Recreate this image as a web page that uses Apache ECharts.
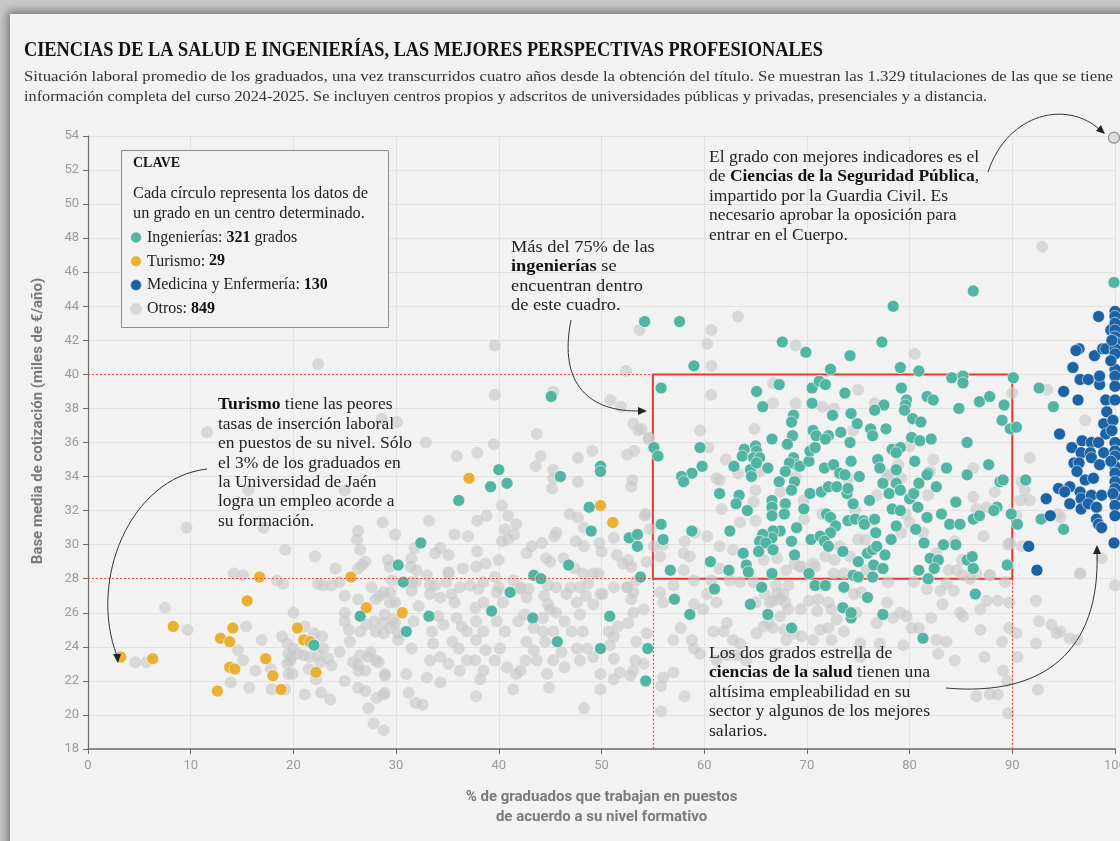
<!DOCTYPE html>
<html><head><meta charset="utf-8">
<script src="https://cdn.jsdelivr.net/npm/echarts@6/dist/echarts.min.js"></script>
<style>
html,body{margin:0;padding:0;width:1120px;height:841px;overflow:hidden;background:#c9c9c9;}
#card{position:absolute;left:10px;top:14px;width:1200px;height:900px;background:#f2f2f2;box-shadow:0 0 9px 3px rgba(0,0,0,0.42);}
#chart{position:absolute;left:0;top:0;width:1120px;height:841px;}
</style></head><body><div id="card"></div><div id="chart"></div>
<script>
// ---------- DATA ----------
const categories = ['Ingenierías', 'Turismo', 'Medicina y Enfermería', 'Otros'];
const counts = [321, 29, 130, 849];
const xTicks = [0, 10, 20, 30, 40, 50, 60, 70, 80, 90, 100];
const yTicks = [18, 20, 22, 24, 26, 28, 30, 32, 34, 36, 38, 40, 42, 44, 46, 48, 50, 52, 54];
const boxX = [55, 90];
const boxY = [28, 40];
const destacado = [[99.9, 53.9]];

const turismo = [[3.2,23.4],[6.3,23.3],[8.3,25.2],[12.6,21.4],[12.9,24.5],[13.8,24.3],[14.1,25.1],[13.8,22.8],[14.3,22.7],[15.5,26.7],[16.7,28.1],[17.3,23.3],[18.0,22.3],[18.8,21.5],[20.4,25.1],[21.0,24.4],[21.6,24.3],[22.2,22.5],[25.6,28.1],[27.1,26.3],[30.6,26.0],[37.1,33.9],[49.9,32.3],[51.1,31.3]];

const medicina = [[98.4,43.4],[99.6,42.6],[96.5,41.5],[96.2,41.4],[98.0,41.1],[98.8,41.5],[99.1,41.5],[95.9,40.4],[96.6,39.7],[97.4,39.7],[98.5,39.4],[95.0,39.0],[96.4,38.5],[99.1,38.5],[99.2,37.8],[98.9,37.1],[99.1,36.5],[94.6,36.5],[96.8,36.1],[95.8,35.7],[97.7,36.0],[98.4,36.0],[96.7,35.4],[97.6,35.4],[97.7,35.1],[98.9,35.4],[96.0,34.8],[96.5,34.8],[96.3,34.3],[98.5,34.7],[97.1,33.8],[97.9,33.9],[95.6,33.4],[94.5,33.3],[95.1,33.1],[93.3,32.7],[96.6,33.1],[96.7,32.7],[97.7,32.9],[98.7,32.9],[95.6,32.4],[96.7,32.1],[97.4,32.4],[98.2,32.2],[93.7,31.7],[98.2,31.5],[98.4,31.2],[98.7,31.0],[91.6,29.9],[92.4,28.5],[99.9,30.1],
[100,43.7],[100,43.4],[100,43.0],[100,42.6],[100,42.2],[100,41.9],[100,41.5],[100,41.2],[100,40.3],[100,39.9],[100,39.3],[100,38.5],[100,36.0],[100,35.5],[100,35.2],[100,34.6],[100,34.2],[100,33.7],[100,33.3],[100,32.8],[100,32.3],[100,31.7],
[99.7,42.0],[99.6,40.8],[99.8,37.3],[99.7,36.7],[99.6,34.9],[99.8,33.0],[98.5,39.9]];

const ingenierias = [[67.6,41.9],[69.9,41.3],[59.0,40.5],[72.3,40.3],[55.8,39.2],[65.1,39.0],[67.3,39.4],[70.5,39.2],[71.2,39.6],[71.8,39.4],
[65.7,38.1],[70.5,38.3],[72.5,37.6],[68.7,37.6],[68.5,37.2],[68.6,36.4],[70.6,36.7],[70.9,36.4],[72.1,36.4],[71.8,36.2],
[68.1,35.9],[66.6,36.2],[59.6,35.7],[63.9,35.6],[65.0,35.8],[65.1,35.5],[63.7,35.2],[64.8,35.1],[65.4,35.1],[55.1,35.7],
[55.5,35.2],[59.8,34.6],[58.8,34.2],[57.8,34.0],[58.0,33.7],[62.9,34.6],[64.5,34.4],[64.6,34.0],[66.2,34.5],[65.1,34.8],
[68.7,35.1],[69.0,34.7],[68.3,34.8],[69.3,34.6],[70.2,34.9],[70.3,35.5],[70.8,35.7],[71.7,34.5],[72.6,34.7],[73.2,34.2],
[67.9,34.3],[67.3,33.7],[68.8,33.7],[68.5,33.2],[66.6,32.6],[66.6,32.2],[66.6,31.7],[67.9,32.4],[67.8,31.8],[69.7,32.1],
[70.3,33.0],[71.4,33.1],[72.1,33.4],[72.9,33.4],[61.5,33.0],[63.4,32.9],[63.1,32.4],[64.2,32.0],[55.8,31.2],[56.0,30.3],
[58.8,30.8],[62.5,30.8],[71.9,31.8],[72.3,31.6],[72.8,31.1],[72.3,30.7],[69.0,31.0],[68.5,30.2],[67.4,30.8],[66.7,30.8],
[66.6,30.4],[65.7,30.6],[65.4,30.2],[66.0,30.1],[66.7,29.7],[65.3,29.6],[70.4,30.3],[71.3,30.5],[71.7,30.2],[72.1,29.9],
[63.8,29.5],[64.1,28.8],[64.3,28.4],[62.4,28.5],[60.6,29.0],[56.7,28.5],[66.6,28.3],[68.8,29.4],[70.2,28.3],[70.8,27.6],
[71.8,27.6],[65.6,27.5],[61.0,27.4],
[77.3,41.9],[74.2,41.1],[79.1,40.4],[80.9,40.2],[73.7,38.9],[79.2,39.2],[81.7,38.7],[82.3,38.5],[77.5,38.2],[76.6,37.9],
[79.7,38.5],[79.6,38.2],[79.5,37.9],[80.3,37.4],[81.1,37.2],[84.1,39.8],[85.2,39.9],[85.2,39.5],[86.8,38.4],[87.8,38.7],
[89.2,38.2],[84.8,38.0],[89.0,37.3],[89.8,36.8],[90.4,36.9],[74.3,37.7],[74.9,37.1],[76.2,36.8],[76.4,36.4],[77.7,36.8],
[73.3,36.6],[74.2,36.0],[80.2,36.3],[81.0,36.1],[82.1,36.2],[78.3,35.6],[79.1,35.7],[78.7,35.4],[76.9,35.0],[77.1,34.5],
[74.3,34.9],[73.7,34.1],[75.1,34.0],[78.7,34.4],[80.5,34.9],[83.6,34.5],[81.8,34.2],[81.7,34.1],[82.6,33.4],[85.6,36.0],
[87.7,34.7],[85.6,34.1],[88.8,33.7],[89.1,33.8],[73.9,33.0],[74.0,33.3],[77.4,33.6],[78.0,33.0],[78.7,33.6],[79.1,33.2],
[80.0,32.7],[80.4,33.0],[80.9,33.6],[76.1,32.6],[74.5,32.4],[78.3,32.1],[79.1,32.0],[80.8,32.2],[81.7,31.6],[83.1,31.8],
[84.5,32.5],[83.9,31.2],[84.9,31.2],[86.2,31.5],[86.8,31.7],[88.5,32.2],[88.2,32.0],[89.9,31.8],[90.5,31.2],[74.0,31.4],
[74.7,31.5],[75.5,31.4],[75.6,31.2],[76.6,31.5],[76.7,30.7],[78.2,30.3],[78.7,31.1],[80.6,30.9],[81.4,30.1],[83.3,30.0],
[84.5,30.0],[73.5,29.6],[75.9,29.5],[76.4,29.7],[76.8,29.9],[77.6,29.4],[75.0,29.0],[76.5,28.8],[77.4,28.6],[82.0,29.2],
[82.8,29.1],[82.4,28.6],[80.9,28.5],[85.6,29.1],[86.1,29.3],[86.2,28.6],[89.5,28.8],[74.5,28.2],[75.0,28.1],[76.4,28.1],
[81.8,28.0],[73.6,27.5],
[54.2,43.1],[57.6,43.1],[78.4,44.0],[86.2,44.9],[99.9,45.4],
[45.1,38.7],[49.9,34.6],[40.0,34.4],[49.9,34.3],[40.8,33.6],[39.2,33.4],[46.0,34.0],[36.1,32.6],[48.8,32.2],[49.0,30.8],[52.7,30.4],[53.5,30.6],[53.5,29.9],[32.4,30.1],[30.2,28.8],[30.7,27.8],[43.4,28.2],[44.1,28.0],[46.8,28.8],[53.8,28.1],[41.1,27.2],
[33.2,25.8],[31.0,24.9],[39.3,26.1],[43.3,25.7],[45.7,24.3],[50.8,25.8],[49.9,23.9],[54.5,23.9],[54.3,22.0],[57.1,26.8],[58.6,25.9],[64.5,26.5],[66.2,25.9],
[75.9,26.9],[73.5,26.3],[74.3,25.7],[74.3,26.0],[77.4,25.9],[68.5,25.1],[81.3,24.5],[86.4,27.1],
[90.1,39.8],[92.6,39.2],[94.0,38.1],[91.3,33.8],[92.8,31.5],[95.0,30.9],
[26.5,25.8],[22.0,24.1]];

const otros = [[15.6,33.2],[25.0,33.2],[9.6,31.0],[17.1,31.0],[26.3,30.8],[26.2,30.3],[26.5,29.7],[19.2,29.7],[22.1,29.3],[24.1,28.6],[26.3,28.6],[26.7,28.8],[27.0,29.0],[29.4,28.7],[14.2,28.3],[15.1,28.2],[18.4,27.9],[19.0,27.7],[22.4,27.7],[22.9,27.6],[23.7,27.6],[24.5,27.8],[27.6,27.5],[28.4,27.0],[29.4,27.2],[25.0,27.0],[26.3,26.8],[28.0,26.8],[7.5,26.3],[29.9,26.6],[20.0,26.0],[25.0,26.0],[27.1,25.3],[27.9,25.5],[28.8,25.4],[29.7,25.6],[25.0,25.5],[25.4,25.0],[28.9,25.9],[9.7,25.0],[15.4,25.2],[21.1,25.2],[22.0,24.8],[22.8,24.6],[26.5,24.9],[28.0,24.9],[29.4,25.1],[30.2,24.8],[16.9,24.4],[18.9,24.6],[19.4,24.2],[20.0,23.9],[22.9,23.9],[25.5,24.3],[14.6,23.8],[4.6,23.1],[5.7,23.1],[15.1,23.2],[16.3,22.6],[17.8,22.7],[19.5,23.6],[19.8,23.4],[20.5,23.6],[21.0,23.5],[19.4,23.0],[19.7,23.2],[21.6,23.4],[21.5,22.7],[22.4,23.5],[22.6,23.1],[23.4,23.3],[23.7,22.9],[24.5,23.7],[25.8,23.1],[26.3,22.9],[26.5,23.5],[27.3,23.4],[28.0,23.2],[28.3,23.1],[27.5,23.7],[26.3,22.6],[27.0,22.6],[28.9,22.3],[19.5,22.4],[19.9,22.4],[22.2,22.1],[25.0,22.0],[13.9,21.9],[15.7,21.6],[17.9,21.5],[19.2,21.5],[26.3,21.6],[27.0,21.4],[21.1,21.2],[22.7,21.3],[23.6,20.9],[28.1,21.0],[28.8,21.2],[27.3,20.4],[27.8,19.5],
[22.4,40.6],[11.6,36.6],[28.6,37.4],
[43.7,36.5],[32.9,36.0],[39.5,35.9],[35.9,35.2],[37.9,35.4],[43.6,34.6],[44.1,35.2],[45.3,34.4],[45.3,33.9],[45.2,33.3],[47.7,35.1],[49.1,35.5],[47.7,33.7],[52.5,35.3],[53.2,35.5],[52.9,33.4],[53.0,33.8],[53.1,37.1],[53.6,36.7],[33.2,31.4],[37.9,31.4],[38.8,31.7],[35.7,30.6],[37.0,30.5],[40.3,32.3],[40.9,31.7],[40.6,30.9],[41.5,30.6],[41.7,31.2],[29.9,30.6],[28.7,31.3],[31.8,29.8],[31.5,29.2],[33.8,29.5],[34.3,29.8],[35.1,29.4],[37.9,29.6],[38.7,28.9],[40.0,29.1],[40.3,30.2],[40.9,30.3],[42.7,29.5],[43.2,29.9],[44.2,30.1],[44.6,29.2],[45.0,29.0],[45.4,30.5],[45.6,30.7],[46.9,31.8],[47.7,31.6],[48.3,31.0],[47.5,30.2],[48.3,29.9],[46.3,29.2],[47.4,28.6],[49.8,30.1],[50.0,29.6],[51.2,30.4],[51.5,29.4],[52.1,28.9],[52.6,29.1],[52.9,28.7],[54.2,31.7],[48.2,28.3],[48.7,27.7],[49.7,28.3],[35.1,28.4],[36.5,28.6],[33.0,28.2],[32.0,28.5],[29.2,29.1],[29.6,27.9],[31.5,27.8],[33.3,27.6],[34.9,27.8],[36.2,27.5],[37.2,27.6],[38.5,27.8],[40.0,27.5],[42.1,27.5],[42.9,27.4],[44.8,27.6],[45.6,27.5],[47.9,27.5],[48.5,27.0],[50.1,27.1],[51.2,27.5],[52.5,27.5],[53.1,27.2],
[28.8,27.2],[29.4,26.6],[29.9,25.4],[28.8,24.8],[30.2,24.4],[28.9,22.4],[28.9,21.3],[28.8,19.1],[31.4,28.7],[31.5,27.3],[31.9,27.8],[32.2,26.4],[31.7,25.5],[31.5,23.9],[31.0,22.4],[31.9,20.7],[32.6,20.6],[31.2,21.3],[33.3,27.1],[33.8,27.6],[34.3,26.9],[34.1,25.8],[34.6,25.3],[33.5,24.9],[33.6,24.2],[34.3,23.4],[33.3,23.2],[33.0,22.2],[34.3,21.9],[35.1,28.3],[35.4,27.1],[35.7,26.6],[35.9,25.7],[36.4,25.2],[35.5,24.3],[36.1,23.9],[36.9,24.9],[36.9,23.2],[36.2,22.6],[35.1,23.0],[37.8,28.7],[38.0,27.4],[37.7,26.3],[38.5,26.6],[37.8,25.5],[38.5,24.9],[37.8,24.4],[38.7,23.8],[37.7,23.2],[38.5,22.6],[38.2,22.1],[37.8,21.1],[39.6,28.1],[39.8,27.2],[40.4,26.6],[39.8,25.5],[40.6,24.9],[40.1,23.9],[39.6,23.2],[40.8,22.8],[41.7,22.4],[41.4,21.5],[41.4,27.9],[42.1,27.4],[42.7,26.9],[42.5,25.9],[41.9,25.5],[42.7,24.3],[43.4,25.1],[43.4,23.8],[43.7,23.2],[42.6,23.2],[42.1,22.6],[44.9,21.6],[44.4,27.0],[44.8,26.5],[44.3,25.7],[45.0,26.2],[45.6,26.0],[46.4,25.5],[44.3,24.9],[45.3,24.9],[44.5,24.3],[46.1,23.7],[45.3,23.2],[46.4,22.8],[44.7,22.4],[46.6,27.1],[47.0,27.5],[47.6,26.6],[47.9,25.9],[48.2,24.9],[47.1,24.9],[47.6,23.9],[48.6,23.9],[47.9,23.2],[49.2,23.4],[49.9,22.4],[49.9,21.5],[48.3,20.4],[49.2,28.3],[49.9,27.1],[49.2,26.5],[50.7,24.9],[51.2,24.6],[51.6,25.2],[50.8,24.1],[51.2,23.3],[51.8,22.5],[51.2,22.1],[52.8,22.3],[52.5,27.5],[53.4,27.9],[52.9,26.8],[53.1,26.0],[54.1,26.2],[52.6,25.4],[53.4,24.3],[54.4,24.8],[53.3,23.2],[54.1,23.0],[53.1,22.6],[55.8,21.7],[55.8,20.2],[56.0,22.2],
[57.7,25.1],[57.0,24.4],[58.8,24.4],[59.0,23.9],[59.6,23.6],[60.9,24.9],[61.9,24.9],[62.8,24.4],[63.5,24.2],[61.2,23.2],[63.2,23.5],[64.1,23.2],[57.0,22.5],[58.1,21.1],[62.2,23.5],[65.1,24.8],[66.3,25.4],[65.0,26.6],[66.7,26.7],[67.1,27.1],[55.7,27.2],[56.0,26.6],[59.9,26.2],[59.0,26.5],[61.2,26.6],[62.2,25.4],[60.3,27.1],[57.0,27.6],
[68.8,28.9],[69.5,28.7],[70.6,28.9],[67.0,27.6],[68.2,27.6],[67.7,27.1],[67.4,26.8],[66.4,26.6],[65.9,27.1],[67.9,26.6],[67.4,25.8],[68.2,26.2],[66.7,25.1],[67.8,25.0],[68.0,24.4],[67.1,23.6],[65.8,25.2],[69.4,26.2],[70.2,26.7],[71.1,26.8],[72.1,26.6],[71.0,26.1],[72.4,26.2],[72.9,25.6],[71.3,25.0],[72.1,25.1],[72.4,24.4],[70.6,24.4],[69.5,24.6],[68.7,24.8],[74.6,27.1],[75.3,27.2],[74.8,26.0],[76.8,25.4],[77.8,26.6],[78.4,25.7],[79.1,26.0],[79.7,25.8],[80.2,25.1],[80.9,25.1],[82.1,25.7],[83.2,26.5],[81.7,27.4],[83.0,27.3],[84.3,27.3],[85.2,28.2],[86.5,28.3],[87.8,28.2],[87.5,26.7],[88.6,26.7],[89.7,26.6],[84.9,26.0],[85.2,25.8],[86.9,26.2],[86.9,25.0],[82.6,24.4],[83.6,24.3],[82.8,23.6],[84.4,23.2],[87.3,23.4],[89.0,24.3],[90.4,24.8],[89.7,25.1],[90.5,23.4],[89.1,22.6],[89.5,22.0],[89.6,20.1],[87.8,21.2],[88.6,21.2],[86.5,21.1],[92.5,21.5],[92.3,26.7],[92.6,25.5],[93.8,25.3],[94.3,24.8],[94.7,24.9],[95.6,24.5],[96.3,24.4],[92.3,24.2],[96.6,28.3],[100,27.6],[79.4,24.1],[77.1,24.2],[75.2,23.4],[75.2,24.2],[73.6,24.9],
[60.3,41.8],[68.9,41.7],[60.7,40.5],[60.7,38.8],[66.7,39.5],[66.7,38.3],[68.9,38.3],[71.5,38.1],[64.9,36.8],[59.6,36.7],[60.4,35.7],[62.1,35.0],[61.2,33.9],[61.5,33.8],[63.3,34.2],[65.0,33.2],[65.4,34.3],[64.8,32.5],[61.7,32.1],[63.5,31.3],[65.0,31.4],[69.7,32.6],[68.9,34.0],[67.4,33.1],[60.3,30.5],[58.1,30.2],[58.0,29.5],[58.6,29.3],[59.1,30.7],[61.5,29.9],[62.8,29.7],[61.5,28.6],[62.5,27.9],[60.7,27.9],[59.0,27.9],[58.0,28.5],[55.7,29.3],[55.1,29.9],[54.3,31.8],[54.7,30.9],[54.4,29.0],[67.1,29.2],[65.8,29.1],[68.0,28.5],[69.3,28.7],[71.8,29.3],[72.7,29.1],[70.8,28.7],[63.5,27.8],[64.8,27.8],[72.6,28.3],[73.2,29.9],[71.5,31.8],[69.7,31.5],[54.6,36.3],[53.9,36.8],[56.0,30.0],
[80.5,41.2],[75.0,39.1],[76.6,38.3],[72.6,38.0],[74.5,36.7],[80.0,35.8],[82.3,35.0],[78.9,34.7],[79.2,33.9],[77.8,34.0],[81.8,32.9],[81.3,30.7],[80.0,31.3],[79.6,31.8],[75.0,30.3],[75.7,30.3],[82.6,29.5],[83.8,28.5],[84.6,28.5],[86.5,32.1],[87.5,32.2],[88.3,33.1],[89.8,30.1],[89.3,27.8],[86.2,34.5],[90.0,38.9],[86.2,32.8],[85.1,29.1],[74.2,29.3],[73.6,28.3],[75.8,28.5],[77.9,27.8],[80.4,27.8],[83.6,27.7],[85.9,28.0],[87.8,28.2],[77.9,34.1],[74.0,33.9],[74.7,32.0],[76.2,31.4],[76.8,32.9],[82.0,34.3],[79.2,30.7],[84.4,30.2],[87.2,30.5],
[93.4,39.1],[97.1,37.3],[91.7,35.1],[90.9,33.7],[91.2,33.2],[91.7,32.6],[90.8,32.6],[90.4,31.7],[94.7,31.6],[94.5,31.8],[89.6,30.0],[90.9,29.9],[98.7,29.2],[96.6,28.3],
[92.9,47.5],[63.3,43.4],[60.7,42.6],[53.7,42.6],[39.6,41.7],[52.4,40.2],[45.3,39.0],[39.6,38.8],[50.9,38.5],[51.9,38.1],[54.6,36.2],[30.1,37.2]];

// ---------- TEXTS ----------
const titleText = 'CIENCIAS DE LA SALUD E INGENIERÍAS, LAS MEJORES PERSPECTIVAS PROFESIONALES';
const subLine1 = 'Situación laboral promedio de los graduados, una vez transcurridos cuatro años desde la obtención del título. Se muestran las 1.329 titulaciones de las que se tiene';
const subLine2 = 'información completa del curso 2024-2025. Se incluyen centros propios y adscritos de universidades públicas y privadas, presenciales y a distancia.';
const xName = '% de graduados que trabajan en puestos\nde acuerdo a su nivel formativo';
const yName = 'Base media de cotización (miles de €/año)';

const SERIF = '"Liberation Serif", "DejaVu Serif", serif';
const SANS = 'Roboto, "Liberation Sans", sans-serif';
const mctx = document.createElement('canvas').getContext('2d');
function fit(text, font, target) { mctx.font = font; return target / mctx.measureText(text).width; }

const colors = { 'Ingenierías': '#52b5a2', 'Turismo': '#e8b133', 'Medicina y Enfermería': '#1c63a6', 'Otros': 'rgba(200,200,200,0.62)' };

const titleFont = 'bold 20px ' + SERIF;
const subFont = '15.5px ' + SERIF;
const annFont = '16px ' + SERIF;
const annBold = 'bold 16px ' + SERIF;

function annot(x, yTop, lines, refLine, refWidth, lh) {
  const sc = fit(refLine, annFont, refWidth);
  return {
    type: 'text', x: x, y: yTop, scaleX: sc, z: 50,
    style: {
      text: lines, font: annFont, fill: '#222', lineHeight: lh,
      verticalAlign: 'top', align: 'left',
      rich: { b: { font: annBold, fill: '#111', lineHeight: lh }, n: { font: annFont, fill: '#222', lineHeight: lh } }
    }
  };
}
function curve(p, stroke) {
  return { type: 'bezierCurve', z: 50, shape: { x1: p[0], y1: p[1], cpx1: p[2], cpy1: p[3], cpx2: p[4], cpy2: p[5], x2: p[6], y2: p[7] },
    style: { stroke: stroke || '#333', lineWidth: 1, fill: null } };
}
function head(pts) { return { type: 'polygon', z: 50, shape: { points: pts }, style: { fill: '#222' } }; }

const chart = echarts.init(document.getElementById('chart'), null, { renderer: 'canvas' });

const scatterBase = (name, data, z, border) => ({
  name: name, type: 'scatter', data: data, symbolSize: 12, z: z, silent: true,
  itemStyle: { color: colors[name], borderColor: border ? 'rgba(255,255,255,0.7)' : 'transparent', borderWidth: border ? 0.8 : 0, opacity: 1 }
});

const option = {
  animation: false,
  backgroundColor: 'transparent',
  grid: { left: 88, right: 5, top: 136, bottom: 92, outerBoundsMode: 'none', containLabel: false },
  xAxis: {
    type: 'value', min: xTicks[0], max: xTicks[xTicks.length - 1], interval: 10,
    axisLine: { show: true, onZero: false, lineStyle: { color: '#6b6b6b', width: 1.5 } },
    axisTick: { show: true, length: 5, lineStyle: { color: '#6b6b6b' } },
    axisLabel: { color: '#9a9a9a', fontFamily: SANS, fontSize: 13, margin: 10, hideOverlap: false },
    splitLine: { show: true, lineStyle: { color: '#e2e2e2', width: 1 } },
    name: xName, nameLocation: 'middle', nameGap: 38,
    nameTextStyle: { color: '#7a7a7a', fontFamily: SANS, fontWeight: 'bold', fontSize: 15, lineHeight: 20 }
  },
  yAxis: {
    type: 'value', min: yTicks[0], max: yTicks[yTicks.length - 1], interval: 2,
    axisLine: { show: true, onZero: false, lineStyle: { color: '#6b6b6b', width: 1.2 } },
    axisTick: { show: true, length: 5, lineStyle: { color: '#6b6b6b' } },
    axisLabel: { color: '#9a9a9a', fontFamily: SANS, fontSize: 13, margin: 9 },
    splitLine: { show: true, lineStyle: { color: '#e2e2e2', width: 1 } }
  },
  legend: {
    show: true, z: 100, zlevel: 0, orient: 'vertical', left: 129, top: 229.5, itemWidth: 12, itemHeight: 12, itemGap: 7.8,
    icon: 'circle', selectedMode: false, padding: 0,
    data: categories,
    formatter: function (name) {
      const i = categories.indexOf(name);
      return '{n|' + name + ': }{b|' + counts[i] + '}' + (i === 0 ? '{n| grados}' : '');
    },
    textStyle: {
      fontFamily: SERIF, fontSize: 16, color: '#222', lineHeight: 16,
      rich: { n: { fontFamily: SERIF, fontSize: 16, color: '#222' }, b: { fontFamily: SERIF, fontSize: 16, fontWeight: 'bold', color: '#111' } }
    }
  },
  series: [
    scatterBase('Otros', otros, 1, false),
    {
      name: 'marcas', type: 'scatter', data: [], z: 2, silent: true,
      markArea: {
        silent: true,
        itemStyle: { color: 'rgba(0,0,0,0)', borderColor: '#e8372f', borderWidth: 2 },
        data: [[{ coord: [boxX[0], boxY[1]] }, { coord: [boxX[1], boxY[0]] }]]
      },
      markLine: {
        silent: true, symbol: 'none', label: { show: false },
        lineStyle: { color: '#ec4a43', type: [2, 2], width: 1.2 },
        data: [
          [{ coord: [xTicks[0], boxY[1]] }, { coord: [boxX[0], boxY[1]] }],
          [{ coord: [xTicks[0], boxY[0]] }, { coord: [boxX[0], boxY[0]] }],
          [{ coord: [boxX[0], boxY[0]] }, { coord: [boxX[0], yTicks[0]] }],
          [{ coord: [boxX[1], boxY[0]] }, { coord: [boxX[1], yTicks[0]] }]
        ]
      }
    },
    scatterBase('Turismo', turismo, 3, true),
    scatterBase('Ingenierías', ingenierias, 3, true),
    scatterBase('Medicina y Enfermería', medicina, 3, true),
    { name: 'Seguridad Pública', type: 'scatter', data: destacado, symbolSize: 11, z: 4, silent: true,
      itemStyle: { color: '#dadada', borderColor: '#777', borderWidth: 1.2 } }
  ],
  graphic: [
    { type: 'text', x: 24, y: 41, scaleX: fit(titleText, titleFont, 799), z: 50,
      style: { text: titleText, font: titleFont, fill: '#111', verticalAlign: 'top' } },
    { type: 'text', x: 24, y: 68.5, scaleX: fit(subLine1, subFont, 1089), z: 50,
      style: { text: subLine1, font: subFont, fill: '#333', verticalAlign: 'top' } },
    { type: 'text', x: 24, y: 88.5, scaleX: fit(subLine2, subFont, 963), z: 50,
      style: { text: subLine2, font: subFont, fill: '#333', verticalAlign: 'top' } },
    { type: 'text', x: 38, y: 421, rotation: Math.PI / 2, z: 50,
      style: { text: yName, font: 'bold 15px ' + SANS, fill: '#7a7a7a', align: 'center', verticalAlign: 'middle' } },
    // legend box
    { type: 'rect', z: 1, shape: { x: 121.5, y: 150.5, width: 267, height: 177 },
      style: { fill: '#f2f2f2', stroke: '#8c8c8c', lineWidth: 1 } },
    { type: 'text', x: 133, y: 156, z: 50, style: { text: 'CLAVE', font: 'bold 14px ' + SERIF, fill: '#111', verticalAlign: 'top' } },
    annot(133, 184, 'Cada círculo representa los datos de\nun grado en un centro determinado.', 'Cada círculo representa los datos de', 235, 20),
    // annotations
    annot(218, 395.5, '{b|Turismo} tiene las peores\ntasas de inserción laboral\nen puestos de su nivel. Sólo\nel 3% de los graduados en\nla Universidad de Jaén\nlogra un empleo acorde a\nsu formación.', 'tasas de inserción laboral', 176, 19.4),
    annot(511, 238, 'Más del 75% de las\n{b|ingenierías} se\nencuentran dentro\nde este cuadro.', 'encuentran dentro', 132, 19.4),
    annot(709, 148, 'El grado con mejores indicadores es el\nde {b|Ciencias de la Seguridad Pública},\nimpartido por la Guardia Civil. Es\nnecesario aprobar la oposición para\nentrar en el Cuerpo.', 'El grado con mejores indicadores es el', 270, 19.4),
    annot(709, 644, 'Los dos grados estrella de\n{b|ciencias de la salud} tienen una\naltísima empleabilidad en su\nsector y algunos de los mejores\nsalarios.', 'sector y algunos de los mejores', 221, 19.4),
    // arrows
    curve([207, 469, 130, 478, 88, 580, 117, 656]),
    head([[118, 663], [113, 654], [121, 654]]),
    curve([571, 320, 558, 385, 590, 412, 640, 411]),
    head([[647, 411], [638, 407], [638, 415]]),
    curve([988, 172, 1008, 112, 1068, 100, 1100, 130]),
    head([[1105, 134], [1096, 131], [1101, 125]]),
    curve([946, 688, 1045, 697, 1100, 650, 1097, 553]),
    head([[1097, 545], [1093, 554], [1101, 554]])
  ]
};
chart.setOption(option);
</script></body></html>
